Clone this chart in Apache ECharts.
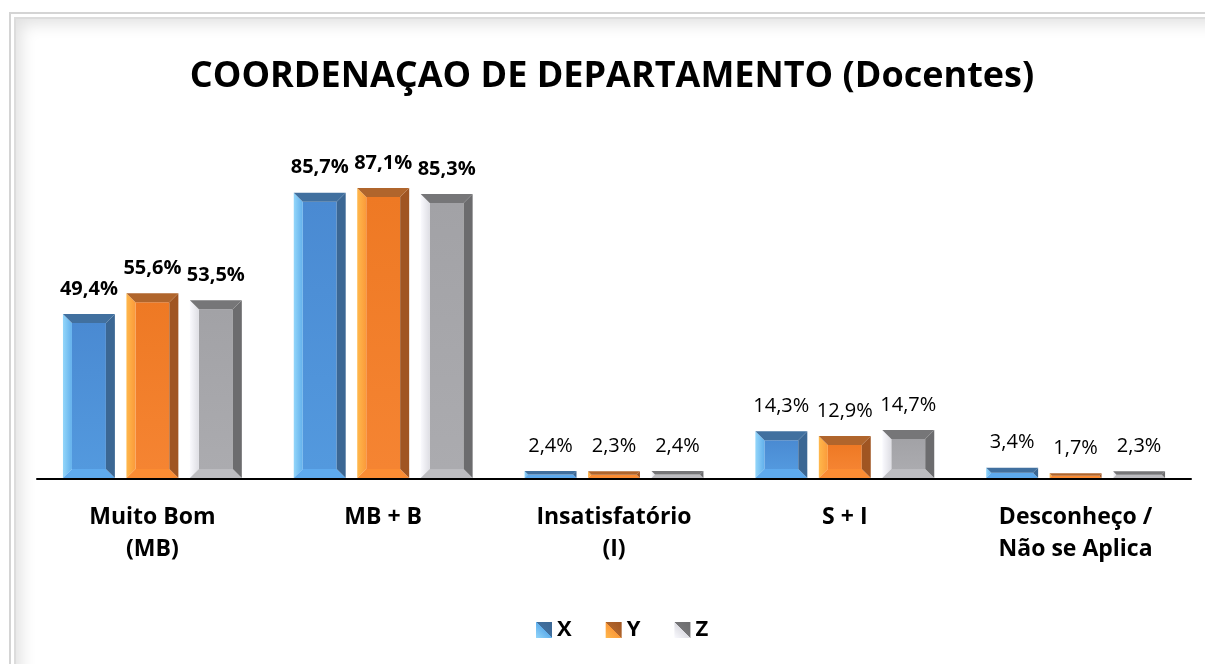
<!DOCTYPE html>
<html>
<head>
<meta charset="utf-8">
<script src="https://cdn.jsdelivr.net/npm/echarts@6/dist/echarts.min.js"></script>
<style>
  html, body { margin: 0; padding: 0; background: #fff; overflow: hidden; }
  #frame {
    position: absolute; left: 9px; top: 12px; width: 1230px; height: 700px;
    border-left: 2px solid #d4d4d4; border-top: 2px solid #d4d4d4;
    box-shadow: inset 3px 3px 0 #fff, inset 5px 5px 0 #dcdcdc, inset 16px 16px 16px -6px rgba(0,0,0,0.12);
  }
  #container { position: absolute; left: 0; top: 0; width: 1205px; height: 664px; }
</style>
</head>
<body>
<div id="frame"></div>
<div id="container"></div>
<script>
const categories = ['Muito Bom\n(MB)', 'MB + B', 'Insatisfatório\n(I)', 'S + I', 'Desconheço /\nNão se Aplica'];
const seriesNames = ['X', 'Y', 'Z'];
const valuesX = [49.4, 85.7, 2.4, 14.3, 3.4];
const valuesY = [55.6, 87.1, 2.3, 12.9, 1.7];
const valuesZ = [53.5, 85.3, 2.4, 14.7, 2.3];
const boldLabels = [true, true, false, false, false];

const FONT = '"Open Sans"';

// bevel colours per series: centre, left, top, right, bottom
const palette = [
    { main: '#5399de', mainDark: '#4a8ad2', left: ['#93d6fa', '#62b0ec'], top: '#41709f', right: '#3b6794', bottom: '#5eaaee' },
    { main: '#f58432', mainDark: '#ee7924', left: ['#ffb84c', '#fb9a3a'], top: '#b0652c', right: '#a05522', bottom: '#fb8c33' },
    { main: '#ababaf', mainDark: '#a2a2a6', left: ['#fafafe', '#dedee4'], top: '#767678', right: '#6c6c6e', bottom: '#bcbcc0' }
];

const allValues = [valuesX, valuesY, valuesZ];

function fmt(v) {
    return v.toFixed(1).replace('.', ',') + '%';
}

function makeRender(s) {
    const c = palette[s];
    return function (params, api) {
        const idx = api.value(0);
        const val = api.value(1);
        const band = api.size([1, 0])[0];
        const top = api.coord([idx, val]);
        const base = api.coord([idx, 0]);
        const w = band * 0.225;
        const cx = top[0] + (s - 1) * band * 0.275;
        const x0 = cx - w / 2, x1 = cx + w / 2;
        const y0 = top[1], y1 = base[1] - 1;
        const h = y1 - y0;
        const b = Math.min(9, h / 2, w / 2);
        const bold = boldLabels[idx];
        return {
            type: 'group',
            children: [
                { type: 'rect', shape: { x: x0 + b, y: y0 + b, width: w - 2 * b, height: Math.max(0, h - 2 * b) },
                  style: { fill: new echarts.graphic.LinearGradient(0, 0, 0, 1, [{ offset: 0, color: c.mainDark }, { offset: 1, color: c.main }]) } },
                { type: 'polygon', shape: { points: [[x0, y0], [x0 + b, y0 + b], [x0 + b, y1 - b], [x0, y1]] },
                  style: { fill: new echarts.graphic.LinearGradient(0, 0, 1, 0, [{ offset: 0, color: c.left[0] }, { offset: 1, color: c.left[1] }]) } },
                { type: 'polygon', shape: { points: [[x0, y1], [x1, y1], [x1 - b, y1 - b], [x0 + b, y1 - b]] },
                  style: { fill: c.bottom } },
                { type: 'polygon', shape: { points: [[x1, y0], [x1, y1], [x1 - b, y1 - b], [x1 - b, y0 + b]] },
                  style: { fill: c.right } },
                { type: 'polygon', shape: { points: [[x0, y0], [x1, y0], [x1 - b, y0 + b], [x0 + b, y0 + b]] },
                  style: { fill: c.top } },
                { type: 'text', style: { text: fmt(val), x: cx, y: y0 - 25, align: 'center', verticalAlign: 'middle',
                  font: (bold ? 'bold ' : '') + '20px ' + FONT, fill: '#000' } }
            ]
        };
    };
}

const legendIcon = function (s) {
    const c = palette[s];
    return new echarts.graphic.LinearGradient(0, 1, 1, 0, [
        { offset: 0, color: c.left[0] }, { offset: 0.5, color: c.left[1] },
        { offset: 0.5, color: c.top }, { offset: 1, color: c.right }
    ]);
};

const chart = echarts.init(document.getElementById('container'));
chart.setOption({
    animation: false,
    backgroundColor: 'transparent',
    title: {
        text: 'COORDENAÇAO DE DEPARTAMENTO (Docentes)',
        left: 607, top: 54, textAlign: 'center',
        textStyle: { fontFamily: FONT, fontSize: 36, fontWeight: 'bold', color: '#000' }
    },
    legend: {
        bottom: 18, left: 531, itemGap: 34, itemWidth: 16, itemHeight: 16, icon: 'rect',
        textStyle: { fontFamily: FONT, fontSize: 22, fontWeight: 'bold', color: '#000' },
        data: seriesNames.map((n, s) => ({ name: n, itemStyle: { color: legendIcon(s) } }))
    },
    grid: { left: 37, right: 14, top: 145, bottom: 185 },
    xAxis: {
        type: 'category', data: categories,
        axisLine: { lineStyle: { color: '#000', width: 2 } },
        axisTick: { show: false },
        axisLabel: { fontFamily: FONT, fontSize: 23, fontWeight: 'bold', color: '#000', lineHeight: 32, margin: 22, interval: 0 }
    },
    yAxis: { type: 'value', min: 0, max: 100, show: false, splitLine: { show: false } },
    series: allValues.map((vals, s) => ({
        type: 'custom', name: seriesNames[s],
        itemStyle: { color: palette[s].main },
        renderItem: makeRender(s),
        encode: { x: 0, y: 1 },
        data: vals.map((v, i) => [i, v])
    }))
});
</script>
</body>
</html>
